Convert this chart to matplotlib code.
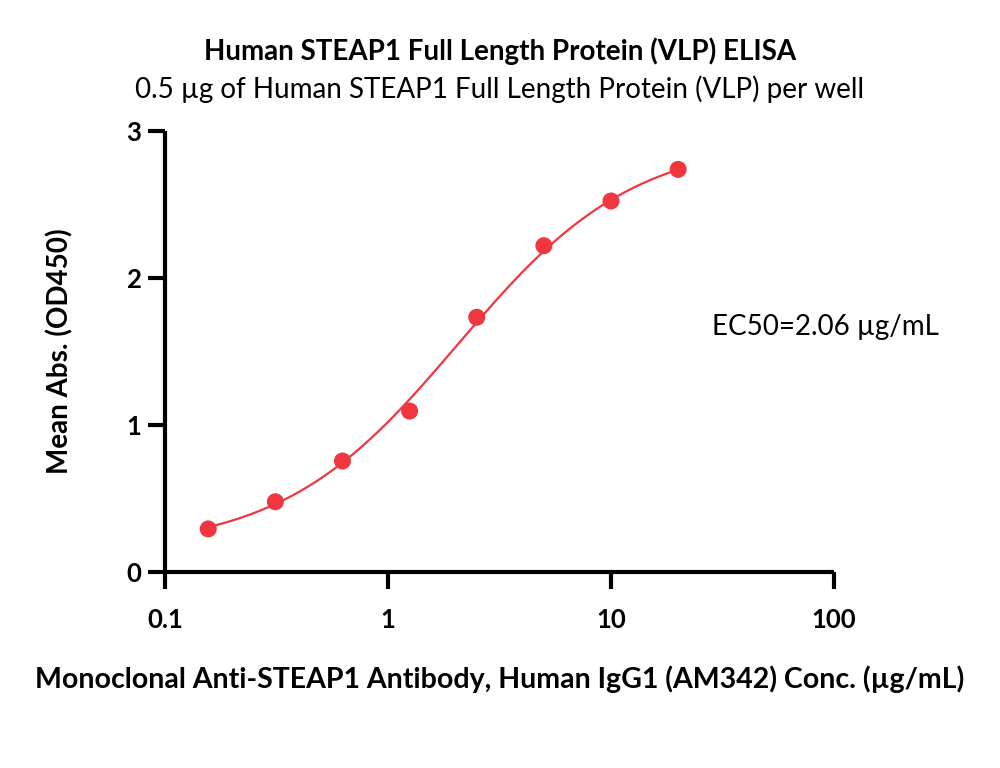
import numpy as np
import matplotlib
matplotlib.use("Agg")
import matplotlib.pyplot as plt

plt.rcParams['font.family'] = ['Lato', 'DejaVu Sans']

# Data
conc = [0.15625, 0.3125, 0.625, 1.25, 2.5, 5, 10, 20]
od450 = [0.293, 0.478, 0.755, 1.095, 1.733, 2.22, 2.524, 2.739]

# 4PL fit parameters (estimated)
fit_bottom = 0.15
fit_top = 2.95
fit_ec50 = 2.06
fit_hill = 1.1

xticks = [0.1, 1, 10, 100]
xtick_labels = ["0.1", "1", "10", "100"]
yticks = [0, 1, 2, 3]

title = "Human STEAP1 Full Length Protein (VLP) ELISA"
subtitle = "0.5 µg of Human STEAP1 Full Length Protein (VLP) per well"
xlabel = "Monoclonal Anti-STEAP1 Antibody, Human IgG1 (AM342) Conc. (µg/mL)"
ylabel = "Mean Abs. (OD450)"
ec50_text = "EC50=2.06 µg/mL"

red = "#F0363E"

fig = plt.figure(figsize=(10, 7.68), dpi=100)
ax = fig.add_axes([0.165, 0.2552, 0.669, 0.5742])

xf = np.logspace(np.log10(conc[0]), np.log10(conc[-1]), 300)
yf = fit_bottom + (fit_top - fit_bottom) / (1 + (fit_ec50 / xf) ** fit_hill)
ax.plot(xf, yf, color=red, lw=1.6, zorder=2)
ax.scatter(conc, od450, s=150, color=red, zorder=3, edgecolors='none')

ax.set_xscale('log')
ax.set_xlim(0.1, 100)
ax.set_ylim(0, 3)
ax.set_xticks(xticks)
ax.set_xticklabels(xtick_labels)
ax.minorticks_off()
ax.set_yticks(yticks)

for s in ['top', 'right']:
    ax.spines[s].set_visible(False)
for s in ['left', 'bottom']:
    ax.spines[s].set_linewidth(3)
    ax.spines[s].set_capstyle('butt')
ax.tick_params(axis='both', length=12, width=3, labelsize=18.5, pad=5)
for lab in ax.get_xticklabels() + ax.get_yticklabels():
    lab.set_fontweight('bold')
ax.tick_params(axis='x', pad=14)

ax.set_xlabel(xlabel, fontsize=20.5, fontweight='bold', labelpad=24)
ax.set_ylabel(ylabel, fontsize=20, fontweight='bold', labelpad=38)

fig.text(0.5, 0.933, title, ha='center', va='center', fontsize=20, fontweight='bold')
fig.text(0.5, 0.884, subtitle, ha='center', va='center', fontsize=20)
ax.text(0.825, 0.574, ec50_text, transform=fig.transFigure, ha='center', va='center', fontsize=20)

fig.savefig("out.png", dpi=100, facecolor='white')
